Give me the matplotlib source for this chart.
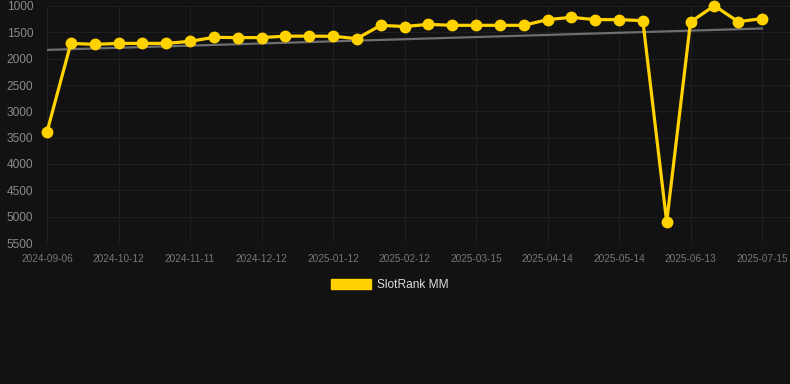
from matplotlib import pyplot as plt
from matplotlib.patches import Patch
import numpy as np

dates = ["2024-09-06", "2024-09-18", "2024-09-30", "2024-10-12", "2024-10-22", "2024-11-01",
         "2024-11-11", "2024-11-21", "2024-12-01", "2024-12-12", "2024-12-22", "2025-01-01",
         "2025-01-12", "2025-01-22", "2025-02-01", "2025-02-12", "2025-02-22", "2025-03-04",
         "2025-03-15", "2025-03-25", "2025-04-04", "2025-04-14", "2025-04-24", "2025-05-04",
         "2025-05-14", "2025-05-24", "2025-06-03", "2025-06-13", "2025-06-23", "2025-07-04",
         "2025-07-15"]
rank = [3390, 1710, 1728, 1710, 1710, 1710, 1671, 1595, 1600, 1600, 1572, 1572,
        1575, 1620, 1367, 1390, 1348, 1367, 1367, 1367, 1367, 1259, 1215, 1259,
        1259, 1278, 5100, 1304, 995, 1297, 1240]
yticks = [1000, 1500, 2000, 2500, 3000, 3500, 4000, 4500, 5000, 5500]

plt.rcParams['font.family'] = ['Liberation Sans', 'DejaVu Sans']
bg = '#121212'
yellow = '#FFD200'

fig = plt.figure(figsize=(7.9, 3.84), dpi=100, facecolor=bg)
ax = fig.add_axes([47/790, (384-243)/384, 1-47/790, (243-6)/384])
ax.set_facecolor(bg)

x = np.arange(len(rank))
# linear trend through the ranks
coef = np.polyfit(x, rank, 1)
trend = np.poly1d(coef)
ax.plot(x, trend(x), color='#6e6e6e', lw=1.6, zorder=2)
ax.plot(x, rank, color=yellow, lw=2.3, marker='o', ms=7.5,
        solid_joinstyle='miter', zorder=3, clip_on=False)

ax.set_xlim(0, 30 * 743 / 715)
ax.set_ylim(5500, 1000)
ax.set_yticks(yticks)
ax.set_xticks(x[::3])
ax.set_xticklabels(dates[::3])
ax.tick_params(axis='x', colors='#777777', labelsize=7.2, length=0, pad=8)
ax.tick_params(axis='y', colors='#8a8a8a', labelsize=8.6, length=0, pad=10)
ax.grid(True, color='#1f1f1f', lw=0.8)
for s in ax.spines.values():
    s.set_visible(False)

handle = Patch(facecolor=yellow, edgecolor=yellow)
fig.legend([handle], ['SlotRank MM'], loc='center', bbox_to_anchor=(390/790, 1-285/384),
           frameon=False, labelcolor='#dddddd', fontsize=8.6, handlelength=3.3,
           handleheight=0.9, handletextpad=0.5)

fig.savefig('out.png', dpi=100, facecolor=bg)
